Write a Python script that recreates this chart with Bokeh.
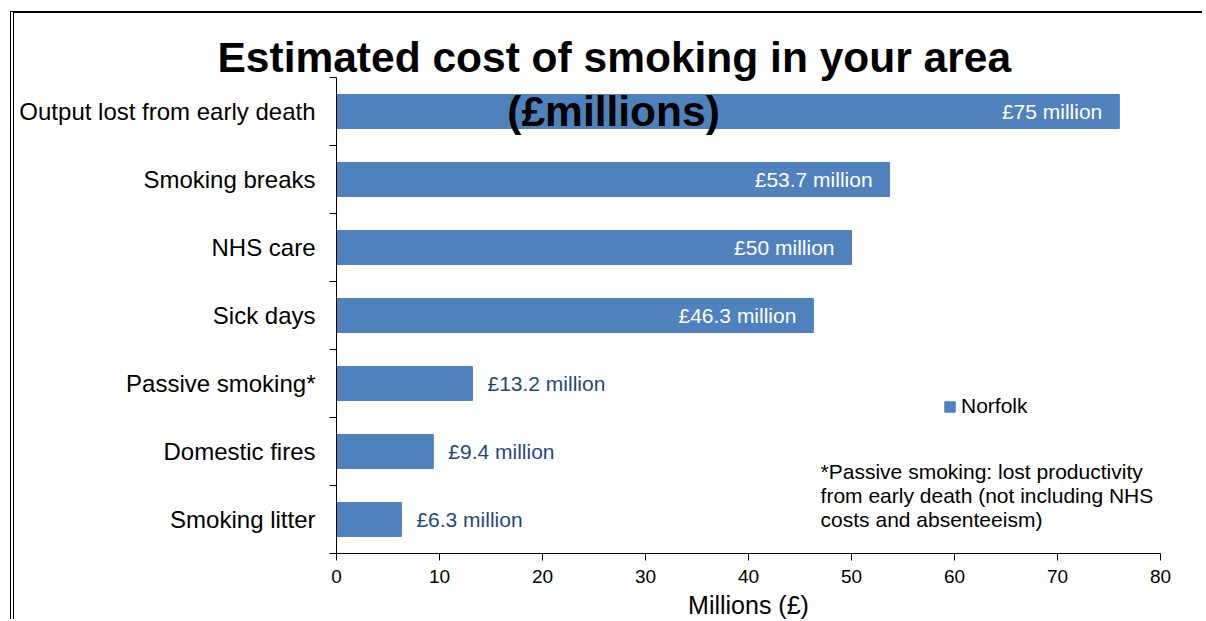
from bokeh.plotting import figure
from bokeh.models import Range1d, FixedTicker, Label, Legend, LegendItem, ColumnDataSource
from bokeh.embed import file_html
from bokeh.resources import INLINE
from bokeh.core.properties import value

# ---- data ----
categories = ["Output lost from early death", "Smoking breaks", "NHS care", "Sick days",
              "Passive smoking*", "Domestic fires", "Smoking litter"]
costs = [76, 53.7, 50, 46.3, 13.2, 9.4, 6.3]
cost_labels = ["£75 million", "£53.7 million", "£50 million", "£46.3 million",
               "£13.2 million", "£9.4 million", "£6.3 million"]
x_ticks = [0, 10, 20, 30, 40, 50, 60, 70, 80]
series_name = "Norfolk"
title_lines = ["Estimated cost of smoking in your area", "(£millions)"]
footnote_lines = ["*Passive smoking: lost productivity",
                  "from early death (not including NHS",
                  "costs and absenteeism)"]
x_axis_title = "Millions (£)"

FONT = "Liberation Sans"
BAR = "#4F81BD"

n = len(categories)
ys = [n - i - 0.5 for i in range(n)]
inside = [c > 20 for c in costs]

src_all = ColumnDataSource(dict(y=ys, v=costs, cat=categories, lab=cost_labels))
src_in = ColumnDataSource(dict(y=[y for y, f in zip(ys, inside) if f],
                               v=[v for v, f in zip(costs, inside) if f],
                               lab=[l for l, f in zip(cost_labels, inside) if f]))
src_out = ColumnDataSource(dict(y=[y for y, f in zip(ys, inside) if not f],
                                v=[v for v, f in zip(costs, inside) if not f],
                                lab=[l for l, f in zip(cost_labels, inside) if not f]))

p = figure(width=1192, height=608, output_backend="svg", toolbar_location=None,
           title=title_lines[0],
           x_range=Range1d(x_ticks[0], x_ticks[-1]), y_range=Range1d(0, n),
           min_border_left=322, min_border_right=46, min_border_top=64, min_border_bottom=68)
p.margin = (11, 0, 0, 10)
p.styles = {"border-top": "2px solid black", "border-left": "4px double black"}
p.outline_line_color = None
p.xgrid.visible = False
p.ygrid.visible = False
p.background_fill_color = "white"
p.border_fill_color = "white"

# title line 1 (above the frame, shifted left like the reference)
p.title.align = "left"
p.title.offset = -119
p.title.text_font = FONT
p.title.text_font_size = "42.5px"
p.title.text_font_style = "bold"
p.title.text_color = "black"
p.title.standoff = -6

bars = p.hbar(y="y", left=0, right="v", height=0.5, color=BAR, source=src_all)

p.text(x="v", y="y", text="lab", source=src_in, text_align="right", text_baseline="middle",
       x_offset=-17, text_color="white", text_font=value(FONT), text_font_size="21px")
p.text(x="v", y="y", text="lab", source=src_out, text_align="left", text_baseline="middle",
       x_offset=15, text_color="#1F497D", text_font=value(FONT), text_font_size="21px")

# axes
xa = p.xaxis[0]
xa.ticker = FixedTicker(ticks=x_ticks, minor_ticks=[])
xa.major_tick_out = 7
xa.major_tick_in = 0
xa.minor_tick_out = 0
xa.axis_line_color = "black"
xa.major_tick_line_color = "black"
xa.major_label_text_font = FONT
xa.major_label_text_font_size = "19px"
xa.major_label_text_color = "black"
xa.major_label_standoff = 9
xa.axis_label = x_axis_title
xa.axis_label_text_font = FONT
xa.axis_label_text_font_size = "25px"
xa.axis_label_text_font_style = "normal"
xa.axis_label_text_color = "black"
xa.axis_label_standoff = 5

ya = p.yaxis[0]
ya.ticker = FixedTicker(ticks=ys, minor_ticks=list(range(n + 1)))
ya.major_label_overrides = {y: c for y, c in zip(ys, categories)}
ya.major_tick_out = 0
ya.major_tick_in = 0
ya.minor_tick_out = 7
ya.minor_tick_in = 0
ya.minor_tick_line_color = "black"
ya.axis_line_color = "black"
ya.major_label_text_font = FONT
ya.major_label_text_font_size = "24px"
ya.major_label_text_color = "black"
ya.major_label_standoff = 14

# title line 2 (overlapping the top bar, as in the reference)
p.add_layout(Label(x=26.9, y=6.50, text=title_lines[1], text_align="center",
                   text_baseline="alphabetic", text_font=FONT, text_font_size="42.5px",
                   text_font_style="bold", text_color="black"))

# footnote
for i, line in enumerate(footnote_lines):
    p.add_layout(Label(x=47.0, y=1.206 - i * 0.35, text=line, text_align="left",
                       text_baseline="middle", text_font=FONT, text_font_size="21px",
                       text_color="black"))

legend = Legend(items=[LegendItem(label=series_name, renderers=[bars])],
                location=(607, 135), glyph_width=13, glyph_height=13, label_standoff=5,
                padding=0, margin=0, border_line_alpha=0, background_fill_alpha=0,
                label_text_font=FONT, label_text_font_size="21px", label_text_color="black")
p.add_layout(legend)

open("out.html", "w").write(file_html(p, INLINE))
